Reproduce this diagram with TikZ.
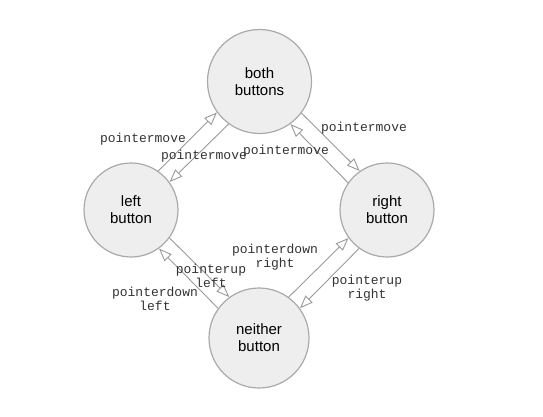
\documentclass[tikz,border=0pt]{standalone}
\usepackage{fontspec}
\setmainfont{Liberation Sans}
\setmonofont{Liberation Mono}
\usetikzlibrary{arrows.meta,positioning}
\definecolor{statefill}{HTML}{EEEEEE}
\definecolor{stateline}{HTML}{AAAAAA}
\definecolor{edgeline}{HTML}{999999}
\definecolor{labeltext}{HTML}{333333}
\tikzset{state/.style={
            draw=stateline,
            fill=statefill,
            circle,
            line width=1.2pt,
            inner sep=0pt,
            align=center,
            font=\fontsize{15}{17}\selectfont
        },
        bigstate/.style={
            state,
            minimum size=104pt
        },
        smallstate/.style={
            state,
            minimum size=94pt
        },
        evt/.style={
            text=labeltext,
            align=center,
            inner sep=0pt,
            font=\ttfamily\fontsize{13}{14}\selectfont
        },
        trans/.style={
            draw=edgeline,
            line width=0.9pt,
            -{Triangle[open,length=13pt,width=10pt]}
        }
    }
\begin{document}
\begin{tikzpicture}[x=1pt,y=-1pt]
        \useasboundingbox (0,0) rectangle (543,416);
        \node[bigstate] at (259.5,81.5) (both) {both\\buttons};
        \node[smallstate] at (131,210) (left) {left\\button};
        \node[smallstate] at (387,210) (right) {right\\button};
        \node[bigstate,minimum size=100pt] at (259,338) (neither) {neither\\button};
        % upper half
        \draw[trans] (left.55) -- (both.216);
        \draw[trans] (both.234) -- (left.36);
        \draw[trans] (both.-37) -- (right.125);
        \draw[trans] (right.145) -- (both.306);
        \node[evt] at (143,139) (lb) {pointermove};
        \node[evt] at (204,156) (bl) {pointermove};
        \node[evt] at (364,128) (br) {pointermove};
        \node[evt] at (286,151) (rb) {pointermove};
        % lower half
        \draw[trans] (neither.144) -- (left.306);
        \draw[trans] (left.324) -- (neither.126);
        \draw[trans] (neither.54) -- (right.216);
        \draw[trans] (right.234) -- (neither.36);
        \node[evt] at (155,299) (nl) {pointerdown\\left};
        \node[evt] at (211,276) (ln) {pointerup\\left};
        \node[evt] at (275,257) (nr) {pointerdown\\right};
        \node[evt] at (367,288) (rn) {pointerup\\right};
    \end{tikzpicture}
\end{document}
